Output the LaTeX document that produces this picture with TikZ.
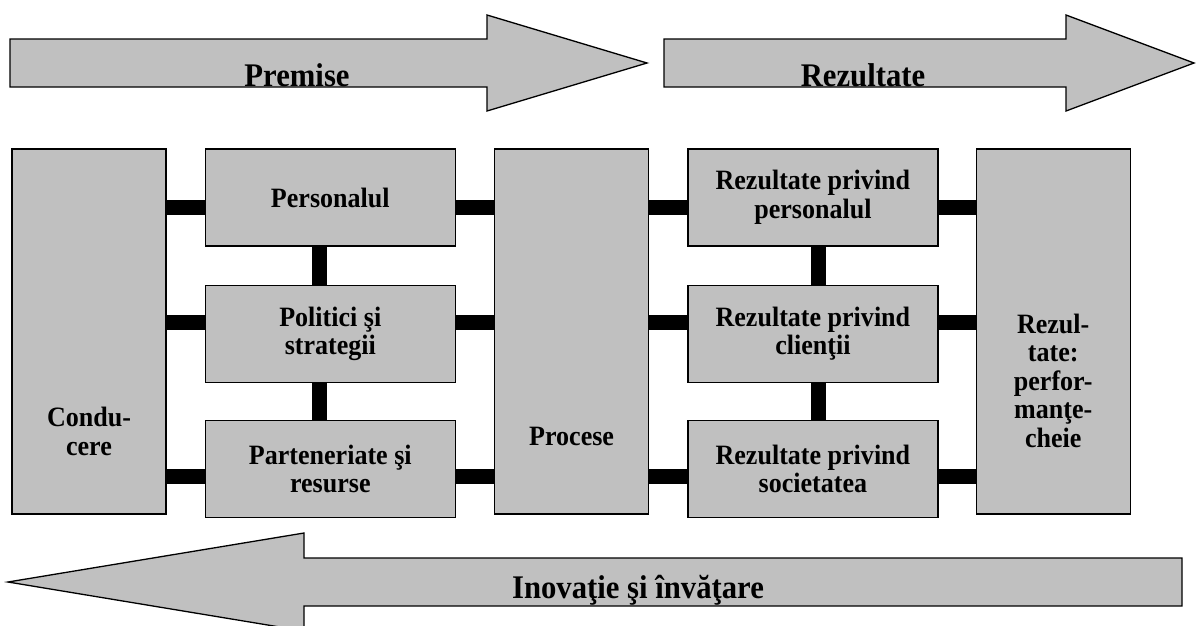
\documentclass[tikz,border=0pt]{standalone}
\usepackage{fontspec}
\setmainfont{Liberation Serif}
\newfontfamily\narrowfont{Liberation Serif}[FakeStretch=0.93]
\usetikzlibrary{positioning}
\definecolor{boxgray}{HTML}{C0C0C0}

\begin{document}
\begin{tikzpicture}[x=1pt, y=-1pt,
  box/.style={rectangle, draw, fill=boxgray, line width=1.3pt, align=center, inner sep=0pt,
    font=\narrowfont\fontsize{28}{28.5}\selectfont\bfseries},
  tallbox/.style={box, minimum width=154pt, minimum height=365pt},
  midbox/.style={box, minimum width=250pt, minimum height=97pt},
  lbl/.style={align=center, inner sep=0pt, font=\narrowfont\fontsize{28}{28.5}\selectfont\bfseries},
  bigarrow/.style={draw, fill=boxgray, line width=1.3pt, line join=miter},
  arrowlbl/.style={anchor=base, inner sep=0pt, font=\narrowfont\fontsize{33}{36}\selectfont\bfseries},
  bar/.style={line width=15pt}]
\useasboundingbox (0,0) rectangle (1196,625);
\clip (0,0) rectangle (1196,625);

% big arrows
\draw [bigarrow] (10,39) -- (487,39) -- (487,15) -- (647,63) -- (487,111) -- (487,87) -- (10,87) -- cycle;
\node (premise) [arrowlbl] at (297,86) {Premise};
\draw [bigarrow] (664,39) -- (1066,39) -- (1066,15) -- (1194,63) -- (1066,111) -- (1066,87) -- (664,87) -- cycle;
\node (rezultate) [arrowlbl] at (863,86) {Rezultate};
\draw [bigarrow] (1182,558) -- (304,558) -- (304,533) -- (8,582) -- (304,631) -- (304,606) -- (1182,606) -- cycle;
\node (inovatie) [arrowlbl] at (638,598) {Inovaţie şi învăţare};

% boxes
\node (cond) [tallbox] at (89,331.5) {};
\node (pers) [midbox, right=38pt of cond.north east, anchor=north west] {Personalul};
\node (pol) [midbox, below=38pt of pers] {Politici şi\\strategii};
\node (part) [midbox, below=37pt of pol] {Parteneriate şi\\resurse};
\node (proc) [tallbox, right=38pt of pers.north east, anchor=north west] {};
\node (rpers) [midbox, right=38pt of proc.north east, anchor=north west] {Rezultate privind\\personalul};
\node (rcli) [midbox, below=38pt of rpers] {Rezultate privind\\clienţii};
\node (rsoc) [midbox, below=37pt of rcli] {Rezultate privind\\societatea};
\node (perf) [tallbox, right=37pt of rpers.north east, anchor=north west] {};

\node (condtxt) [lbl] at ([yshift=-100pt]cond.center) {Condu-\\cere};
\node (proctxt) [lbl] at ([yshift=-105pt]proc.center) {Procese};
\node (perftxt) [lbl] at ([yshift=-49pt]perf.center) {Rezul-\\tate:\\perfor-\\manţe-\\cheie};

% links
\coordinate (row1) at (0,207);
\coordinate (row2) at (0,322);
\coordinate (row3) at (0,476);
\coordinate (col1) at (319,0);
\coordinate (col2) at (818,0);

\draw [bar]
    (cond.east |- row1) -- (pers.west |- row1)
    (pers.east |- row1) -- (proc.west |- row1)
    (proc.east |- row1) -- (rpers.west |- row1)
    (rpers.east |- row1) -- (perf.west |- row1)

    (cond.east |- row2) -- (pol.west |- row2)
    (pol.east |- row2) -- (proc.west |- row2)
    (proc.east |- row2) -- (rcli.west |- row2)
    (rcli.east |- row2) -- (perf.west |- row2)

    (cond.east |- row3) -- (part.west |- row3)
    (part.east |- row3) -- (proc.west |- row3)
    (proc.east |- row3) -- (rsoc.west |- row3)
    (rsoc.east |- row3) -- (perf.west |- row3)

    (pers.south -| col1) -- (pol.north -| col1)
    (pol.south -| col1) -- (part.north -| col1)
    (rpers.south -| col2) -- (rcli.north -| col2)
    (rcli.south -| col2) -- (rsoc.north -| col2);
\end{tikzpicture}
\end{document}
